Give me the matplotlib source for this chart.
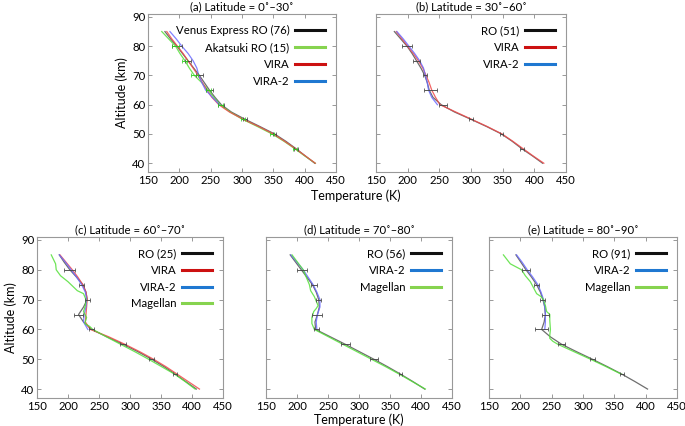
import matplotlib
matplotlib.use("Agg")
import matplotlib.pyplot as plt
from matplotlib.lines import Line2D

plt.rcParams['font.family'] = ['Lato', 'DejaVu Sans']

# ---------------- data ----------------
alt_grid = [85, 82.5, 80, 77.5, 75, 72.5, 70, 67.5, 65, 62.5, 60, 57.5, 55, 52.5, 50, 47.5, 45, 42.5, 40]
alt_v2 = [85, 82.5, 80, 77.5, 75, 72.5, 70, 67.5, 65, 62.5, 60]
err_alt = [80, 75, 70, 65, 60, 55, 50, 45]

# (a) 0-30
a_vex = [177, 186, 196, 205, 214, 223, 232, 240, 248, 257, 267, 283, 305, 329, 352, 370, 386, 401, 416]
a_aka = [172, 183, 194, 201, 209, 216, 224, 236, 246, 255, 265, 281, 301, 325, 348, 367, 384, 400, 417]
a_vira = [180, 188, 197, 206, 214, 222, 230, 237, 244, 252, 263, 280, 302, 327, 350, 368, 385, 401, 417]
a_vira2 = [185, 195, 204, 214, 222, 228, 231, 236, 242, 253, 264]
a_vex_eb = [196, 214, 232, 248, 267, 305, 352, 386]
a_vex_err = [8, 5, 6, 6, 5, 3, 3, 3]
a_aka_eb = [194, 209, 224, 246, 265, 301, 348, 384]
a_aka_err = [6, 4, 5, 4, 4, 3, 3, 3]

# (b) 30-60
b_ro = [179, 189, 199, 207, 214, 221, 227, 231, 234, 240, 253, 274, 300, 325, 348, 365, 380, 397, 413]
b_vira = [182, 191, 200, 209, 217, 224, 229, 234, 238, 244, 251, 276, 301, 326, 349, 366, 382, 398, 415]
b_vira2 = [183, 193, 202, 211, 219, 225, 228, 231, 233, 238, 247]
b_ro_eb = [199, 214, 227, 236, 256, 300, 348, 380]
b_ro_err = [8, 5, 3, 10, 6, 3, 3, 3]

# (c) 60-70
c_ro = [186, 194, 203, 214, 224, 229, 231, 225, 217, 225, 238, 263, 289, 313, 335, 355, 373, 390, 407]
c_vira = [187, 197, 207, 216, 224, 229, 231, 230, 229, 228, 236, 266, 292, 316, 338, 358, 376, 394, 412]
c_vira2 = [186, 196, 205, 214, 222, 228, 230, 229, 226, 225, 232]
c_mag_alt = [85, 82, 80, 78, 76, 74, 73, 72, 70, 68, 66, 64, 62, 61, 60, 57.5, 55, 52.5, 50, 47.5, 45, 42.5, 40]
c_mag = [173, 180, 181, 188, 200, 210, 215, 225, 229, 228, 225, 230, 227, 235, 240, 262, 285, 308, 330, 351, 372, 389, 405]
c_ro_eb = [203, 222, 231, 217, 238, 289, 335, 373]
c_ro_err = [9, 4, 4, 7, 4, 5, 4, 3]

# (d) 70-80
d_ro = [189, 198, 207, 216, 225, 231, 235, 236, 233, 229, 230, 254, 278, 301, 324, 346, 367, 387, 406]
d_vira2 = [190, 200, 210, 218, 226, 232, 237, 237, 233, 231, 232]
d_mag_alt = [85, 82.5, 80, 77.5, 75, 73, 71, 70, 68, 67, 66, 64, 62, 60, 57.5, 55, 52.5, 50, 47.5, 45, 42.5, 40]
d_mag = [192, 201, 210, 215, 220, 222, 228, 230, 234, 231, 227, 224, 224, 228, 251, 274, 297, 320, 343, 365, 386, 407]
d_ro_eb = [208, 227, 235, 232, 232, 278, 324, 367]
d_ro_err = [8, 5, 4, 8, 4, 7, 6, 3]

# (e) 80-90
e_ro = [193, 201, 209, 218, 226, 232, 236, 239, 240, 238, 234, 248, 266, 290, 315, 339, 362, 383, 403]
e_vira2 = [194, 203, 211, 220, 228, 233, 237, 239, 240, 240, 239]
e_mag_alt = [85, 82, 80, 78, 76, 74, 72, 71, 70, 68, 66, 65, 63, 60, 58, 57, 56, 55, 52.5, 50, 47.5, 45]
e_mag = [173, 184, 202, 208, 216, 221, 226, 233, 237, 240, 242, 247, 247, 248, 247, 247, 252, 260, 286, 312, 337, 361]
e_ro_eb = [209, 226, 236, 240, 234, 266, 315, 362]
e_ro_err = [6, 4, 4, 5, 10, 6, 4, 3]

titles = ["(a) Latitude = 0˚–30˚", "(b) Latitude = 30˚–60˚", "(c) Latitude = 60˚–70˚",
          "(d) Latitude = 70˚–80˚", "(e) Latitude = 80˚–90˚"]
xticks = [150, 200, 250, 300, 350, 400, 450]
yticks = [40, 50, 60, 70, 80, 90]

# ---------------- styles ----------------
C_RO, C_GR, C_RED, C_BLUE = '#555555', '#55e03a', '#f04a4a', '#6b6bff'
L_RO, L_GR, L_RED, L_BLUE = '#111111', '#86d34f', '#cc1111', '#1f78d1'
FS_TICK = 8.2
FS_LEG = 8.2
FS_TITLE = 8.2
FS_LAB = 9

fig = plt.figure(figsize=(6.85, 4.26), dpi=100)
W = 685.0; H = 426.0

def mk_ax(l, r, t, b):
    return fig.add_axes([l / W, 1 - b / H, (r - l) / W, (b - t) / H])

axa = mk_ax(148, 336, 14, 172)
axb = mk_ax(376, 566, 14, 172)
axc = mk_ax(37, 223, 237, 398)
axd = mk_ax(266, 452, 237, 398)
axe = mk_ax(489, 677, 237, 398)

for ax, t in zip([axa, axb, axc, axd, axe], titles):
    ax.set_xlim(150, 450)
    ax.set_ylim(37, 91)
    ax.set_xticks(xticks)
    ax.set_yticks(yticks)
    ax.tick_params(direction='in', length=3, width=0.6, color='#888888', top=True, right=True,
                   labelsize=FS_TICK)
    ax.tick_params(axis='x', pad=2.5)
    ax.tick_params(axis='y', pad=2)
    for s in ax.spines.values():
        s.set_color('#999999')
        s.set_linewidth(0.8)
    ax.set_title(t, fontsize=FS_TITLE, pad=3)

for ax in [axb, axd, axe]:
    ax.set_yticklabels([])

def curve(ax, x, y, c, lw=0.9, a=0.85):
    ax.plot(x, y, color=c, lw=lw, alpha=a)

def ebar(ax, x, xe, c):
    ax.errorbar(x, err_alt, xerr=xe, fmt='none', ecolor=c, elinewidth=0.7, capsize=1.5,
                capthick=0.6, alpha=0.9)

def legend(ax, entries):
    handles = [Line2D([], [], color=c, lw=2.2) for c, _ in entries]
    ax.legend(handles, [l for _, l in entries], loc='upper right', frameon=False,
              markerfirst=False, fontsize=FS_LEG, handlelength=2.6, labelspacing=0.5,
              borderaxespad=0.6, handletextpad=0.5)

# (a)
curve(axa, a_vex, alt_grid, C_RO)
curve(axa, a_aka, alt_grid, C_GR)
curve(axa, a_vira, alt_grid, C_RED)
curve(axa, a_vira2, alt_v2, C_BLUE)
ebar(axa, a_vex_eb, a_vex_err, '#444444')
ebar(axa, a_aka_eb, a_aka_err, '#33cc22')
legend(axa, [(L_RO, 'Venus Express RO (76)'), (L_GR, 'Akatsuki RO (15)'),
             (L_RED, 'VIRA'), (L_BLUE, 'VIRA-2')])
axa.set_ylabel('Altitude (km)', fontsize=FS_LAB, labelpad=3)

# (b)
curve(axb, b_ro, alt_grid, C_RO)
curve(axb, b_vira, alt_grid, C_RED)
curve(axb, b_vira2, alt_v2, C_BLUE)
ebar(axb, b_ro_eb, b_ro_err, '#444444')
legend(axb, [(L_RO, 'RO (51)'), (L_RED, 'VIRA'), (L_BLUE, 'VIRA-2')])

# (c)
curve(axc, c_ro, alt_grid, C_RO)
curve(axc, c_vira, alt_grid, C_RED)
curve(axc, c_vira2, alt_v2, C_BLUE)
curve(axc, c_mag, c_mag_alt, C_GR)
ebar(axc, c_ro_eb, c_ro_err, '#444444')
legend(axc, [(L_RO, 'RO (25)'), (L_RED, 'VIRA'), (L_BLUE, 'VIRA-2'), (L_GR, 'Magellan')])
axc.set_ylabel('Altitude (km)', fontsize=FS_LAB, labelpad=3)

# (d)
curve(axd, d_ro, alt_grid, C_RO)
curve(axd, d_vira2, alt_v2, C_BLUE)
curve(axd, d_mag, d_mag_alt, C_GR)
ebar(axd, d_ro_eb, d_ro_err, '#444444')
legend(axd, [(L_RO, 'RO (56)'), (L_BLUE, 'VIRA-2'), (L_GR, 'Magellan')])
axd.set_xlabel('Temperature (K)', fontsize=FS_LAB, labelpad=0.5)

# (e)
curve(axe, e_ro, alt_grid, C_RO)
curve(axe, e_vira2, alt_v2, C_BLUE)
curve(axe, e_mag, e_mag_alt, C_GR)
ebar(axe, e_ro_eb, e_ro_err, '#444444')
legend(axe, [(L_RO, 'RO (91)'), (L_BLUE, 'VIRA-2'), (L_GR, 'Magellan')])

fig.text(356 / W, 1 - 196 / H, 'Temperature (K)', ha='center', va='center', fontsize=FS_LAB)

fig.savefig('out.png', dpi=100)
